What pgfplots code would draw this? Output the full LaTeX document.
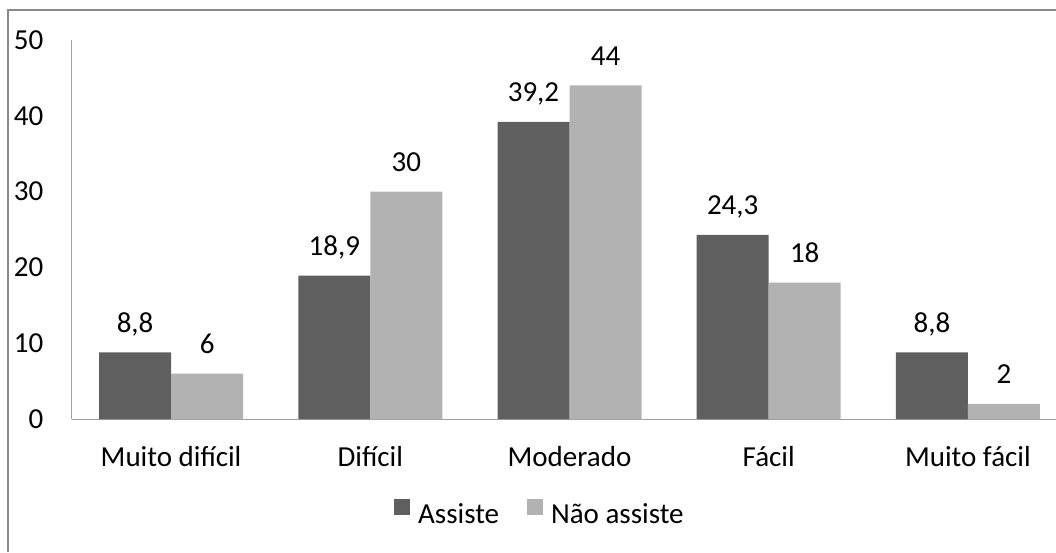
\documentclass[border=0pt]{standalone}
\usepackage{pgfplots}
\pgfplotsset{compat=1.18}
\usepackage{fontspec}
\setmainfont{Carlito}
\definecolor{darkbar}{HTML}{5F5F5F}
\definecolor{lightbar}{HTML}{B2B2B2}
\definecolor{framegray}{HTML}{898989}
\definecolor{axisgray}{HTML}{A0A0A0}
\begin{document}
\begin{tikzpicture}[x=1pt,y=1pt]
\useasboundingbox (0,0) rectangle (1056,552);
\draw[framegray, line width=1.5pt] (8,0) -- (8,542) -- (1056,542);
\begin{scope}
\clip (0,0) rectangle (1056,552);
\begin{axis}[
  at={(71.5pt,133pt)}, anchor=south west,
  scale only axis, width=996pt, height=379pt,
  xmin=-0.5, xmax=4.5, ymin=0, ymax=50,
  axis x line*=bottom, axis y line*=left,
  axis line style={axisgray, line width=1pt, -},
  xtick={0,1,2,3,4},
  xticklabels={Muito difícil, Difícil, Moderado, Fácil, Muito fácil},
  ytick={0,10,20,30,40,50},
  major tick length=0pt,
  /pgf/number format/assume math mode=true,
  /pgf/number format/use comma,
  font=\fontsize{29}{31}\selectfont,
  xticklabel style={anchor=base, inner sep=0pt, yshift=-47pt, font=\fontsize{29}{31}\selectfont},
  yticklabel style={anchor=east, inner sep=0pt, xshift=-28pt, font=\fontsize{29}{31}\selectfont},
  ybar=0pt, bar width=72pt,
  nodes near coords,
  every node near coord/.append style={anchor=base, inner sep=0pt, yshift=20pt, font=\fontsize{29}{31}\selectfont, text=black},
  legend style={at={(0.4733,-0.245)}, anchor=center, draw=none, fill=none,
    legend columns=2, font=\fontsize{29}{31}\selectfont,
    nodes={inner xsep=8pt, inner ysep=0pt},
    /tikz/every even column/.append style={column sep=20pt}},
  legend image code/.code={\fill[#1] (0pt,-1pt) rectangle (16pt,15pt);},
]
\addplot[fill=darkbar, draw=none] coordinates {(0,8.8) (1,18.9) (2,39.2) (3,24.3) (4,8.8)};
\addplot[fill=lightbar, draw=none] coordinates {(0,6) (1,30) (2,44) (3,18) (4,2)};
\legend{Assiste, Não assiste}
\end{axis}
\end{scope}
\end{tikzpicture}
\end{document}
